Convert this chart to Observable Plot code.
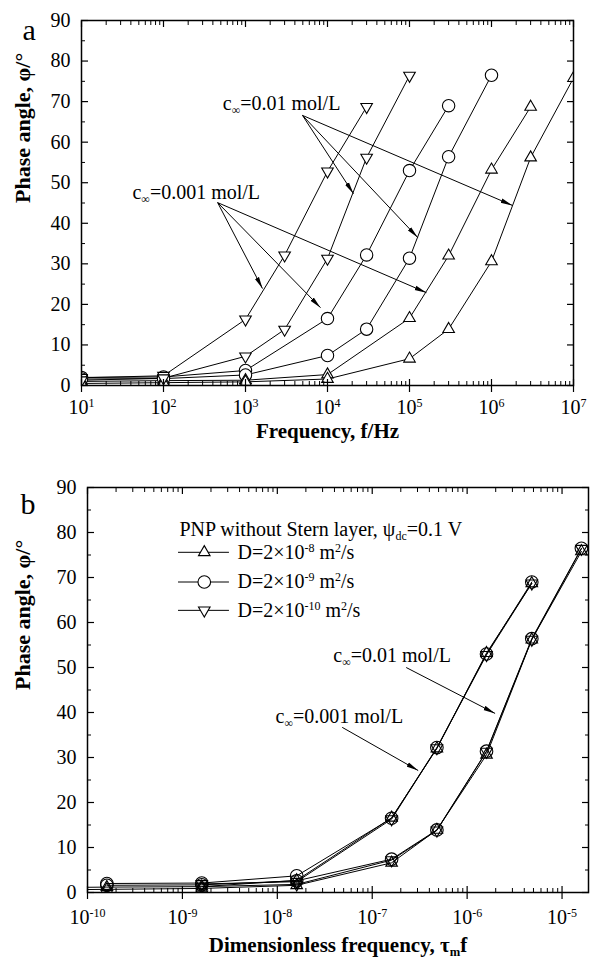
<!DOCTYPE html>
<html>
<head>
<meta charset="utf-8">
<script src="https://cdn.jsdelivr.net/npm/d3@7"></script>
<script src="https://cdn.jsdelivr.net/npm/@observablehq/plot@0.6"></script>
<style>
  html, body { margin: 0; padding: 0; background: #fff; }
  #wrap { width: 593px; }
  #wrap svg { display: block; }
  #wrap svg text, #wrap svg tspan { font-family: 'Liberation Serif', 'Times New Roman', serif !important; }
</style>
</head>
<body>
<div id="wrap"></div>
<script>
const FONT = "'Liberation Serif', 'Times New Roman', serif";

// ---------------- Panel a: phase angle vs frequency (Hz) ----------------
// D = 2e-10 m2/s (down triangles)
const fDown001  = [10, 100, 1e3, 3e3, 1e4, 3e4];
const phDown001 = [1.9, 2.4, 16.3, 32.1, 52.8, 68.7];
const fDown01   = [10, 100, 1e3, 3e3, 1e4, 3e4, 1e5];
const phDown01  = [1.3, 1.8, 7.2, 13.8, 31.3, 56.2, 76.4];
// D = 2e-9 m2/s (circles)
const fCirc001  = [10, 100, 1e3, 1e4, 3e4, 1e5, 3e5];
const phCirc001 = [2.0, 2.1, 3.7, 16.5, 32.2, 53.0, 69.0];
const fCirc01   = [10, 100, 1e3, 1e4, 3e4, 1e5, 3e5, 1e6];
const phCirc01  = [1.6, 1.7, 2.6, 7.4, 13.9, 31.4, 56.4, 76.5];
// D = 2e-8 m2/s (up triangles)
const fUp001    = [10, 100, 1e3, 1e4, 1e5, 3e5, 1e6, 3e6];
const phUp001   = [1.0, 1.2, 1.3, 2.7, 16.6, 32.0, 53.2, 68.7];
const fUp01     = [10, 100, 1e3, 1e4, 1e5, 3e5, 1e6, 3e6, 1e7];
const phUp01    = [0.5, 0.7, 0.9, 1.6, 6.6, 13.9, 30.6, 56.2, 75.8];

// ---------------- Panel b: dimensionless frequency tau_m f ----------------
const tfDown001 = [1.6e-9, 1.6e-8, 1.6e-7, 4.8e-7, 1.6e-6, 4.8e-6];
const tfDown01  = [1.6e-9, 1.6e-8, 1.6e-7, 4.8e-7, 1.6e-6, 4.8e-6, 1.6e-5];
const tfCirc001 = [1.6e-10, 1.6e-9, 1.6e-8, 1.6e-7, 4.8e-7, 1.6e-6, 4.8e-6];
const tfCirc01  = [1.6e-10, 1.6e-9, 1.6e-8, 1.6e-7, 4.8e-7, 1.6e-6, 4.8e-6, 1.6e-5];
const tfUp001   = [1.6e-11, 1.6e-10, 1.6e-9, 1.6e-8, 1.6e-7, 4.8e-7, 1.6e-6, 4.8e-6];
const tfUp01    = [1.6e-11, 1.6e-10, 1.6e-9, 1.6e-8, 1.6e-7, 4.8e-7, 1.6e-6, 4.8e-6, 1.6e-5];

// ---------------- ticks ----------------
const xTicksA = [1e1, 1e2, 1e3, 1e4, 1e5, 1e6, 1e7];
const xTicksB = [1e-10, 1e-9, 1e-8, 1e-7, 1e-6, 1e-5];
const yTicks  = [0, 10, 20, 30, 40, 50, 60, 70, 80, 90];
const yMinor  = [5, 15, 25, 35, 45, 55, 65, 75, 85];
const xDomainA = [10, 1e7];
const xDomainB = [1e-10, 1.9e-5];

// ---------------- annotations (data coordinates) ----------------
const annoTextA = [
  {x: 2754, y: 69.5, label: "c_{∞}=0.01 mol/L"},
  {x: 251,  y: 47.6, label: "c_{∞}=0.001 mol/L"}
];
const annoArrowA = [
  {x1: 4955, y1: 66.6, x2: 20750,   y2: 47.3},
  {x1: 4955, y1: 66.6, x2: 125900,  y2: 36.5},
  {x1: 4955, y1: 66.6, x2: 1803000, y2: 44.4},
  {x1: 457,  y1: 45.1, x2: 1611,    y2: 23.9},
  {x1: 457,  y1: 45.1, x2: 8222,    y2: 19.2},
  {x1: 457,  y1: 45.1, x2: 161000,  y2: 22.9}
];
const annoTextB = [
  {x: 1.62e-7, y: 52.7, label: "c_{∞}=0.01 mol/L"},
  {x: 4.5e-8,  y: 39.0, label: "c_{∞}=0.001 mol/L"}
];
const annoArrowB = [
  {x1: 2.28e-7, y1: 50.0, x2: 1.97e-6, y2: 39.8},
  {x1: 4.83e-8, y1: 36.7, x2: 3.05e-7, y2: 27.1}
];
const legendTitle = [{x: 9.3e-10, y: 80.6, label: "PNP without Stern layer, ψ_{dc}=0.1 V"}];
const legendLabels  = ["D=2×10^{-8} m^{2}/s", "D=2×10^{-9} m^{2}/s", "D=2×10^{-10} m^{2}/s"];
const legendSymbols = ["up", "circle", "down"];
const legendY       = [75.6, 69.0, 62.7];
const legendLineX   = [9.1e-10, 3.13e-9];
const legendMarkX   = 1.7e-9;
const legendTextX   = 3.8e-9;

// ---------------- helpers ----------------
function series(xs, ys, sym, key) { return xs.map((x, i) => ({x, y: ys[i], sym, key})); }
function minorTicks(lo, hi) { const out = []; for (let e = lo; e < hi; e++) for (let m = 2; m <= 9; m++) out.push(m * Math.pow(10, e)); return out; }
const pow10fmt = d => "10^{" + Math.round(Math.log10(d)) + "}";

const dataA = [
  ...series(fDown001, phDown001, "down", "d1"), ...series(fDown01, phDown01, "down", "d2"),
  ...series(fCirc001, phCirc001, "circle", "c1"), ...series(fCirc01, phCirc01, "circle", "c2"),
  ...series(fUp001, phUp001, "up", "u1"), ...series(fUp01, phUp01, "up", "u2")
];
const dataB = [
  ...series(tfDown001, phDown001, "down", "d1"), ...series(tfDown01, phDown01, "down", "d2"),
  ...series(tfCirc001, phCirc001, "circle", "c1"), ...series(tfCirc01, phCirc01, "circle", "c2"),
  ...series(tfUp001, phUp001, "up", "u1"), ...series(tfUp01, phUp01, "up", "u2")
];
const legendRows = legendLabels.map((label, i) => ({label, sym: legendSymbols[i], y: legendY[i]}));

function markerMarks(data, fill, rc, rt, extra = {}) {
  const base = {x: "x", y: "y", stroke: "black", strokeWidth: 1.1, fill, ...extra};
  return [
    Plot.dot(data.filter(d => d.sym === "circle"), {...base, symbol: "circle", r: rc}),
    Plot.dot(data.filter(d => d.sym === "up"), {...base, symbol: "triangle", r: rt}),
    Plot.dot(data.filter(d => d.sym === "down"), {...base, symbol: "triangle", r: rt, rotate: 180})
  ];
}

function frameAxes(xMajor, xMinor, pad) {
  return [
    Plot.axisX({anchor: "bottom", ticks: xMajor, tickSize: 7, tickPadding: pad, tickFormat: pow10fmt, fontSize: 20, fontFamily: FONT, label: null, strokeWidth: 1.2}),
    Plot.axisX({anchor: "bottom", ticks: xMajor, tickSize: -6, fill: "none", label: null, strokeWidth: 1.2}),
    Plot.axisX({anchor: "bottom", ticks: xMinor, tickSize: -4, fill: "none", label: null, strokeWidth: 1}),
    Plot.axisX({anchor: "top", ticks: xMajor, tickSize: -6, fill: "none", label: null, strokeWidth: 1.2}),
    Plot.axisX({anchor: "top", ticks: xMinor, tickSize: -4, fill: "none", label: null, strokeWidth: 1}),
    Plot.axisY({anchor: "left", ticks: yTicks, tickSize: 0, tickPadding: 11, fontSize: 20, fontFamily: FONT, label: null}),
    Plot.axisY({anchor: "left", ticks: yTicks, tickSize: -7, fill: "none", label: null, strokeWidth: 1.2}),
    Plot.axisY({anchor: "left", ticks: yMinor, tickSize: -4, fill: "none", label: null, strokeWidth: 1}),
    Plot.axisY({anchor: "right", ticks: yTicks, tickSize: -7, fill: "none", label: null, strokeWidth: 1.2}),
    Plot.axisY({anchor: "right", ticks: yMinor, tickSize: -4, fill: "none", label: null, strokeWidth: 1}),
    Plot.frame({stroke: "black", strokeWidth: 1.5})
  ];
}

const style = {fontFamily: FONT, fontSize: "20px", color: "black", background: "white"};
const T = {fontFamily: FONT};

const plotA = Plot.plot({
  width: 593, height: 460,
  marginTop: 20, marginBottom: 75, marginLeft: 81, marginRight: 20,
  x: {type: "log", domain: xDomainA},
  y: {domain: [0, 90]},
  style,
  marks: [
    Plot.line(dataA, {x: "x", y: "y", z: "key", stroke: "black", strokeWidth: 1, clip: true}),
    ...markerMarks(dataA, "white", 6.2, 4.3, {clip: true}),
    Plot.link(annoArrowA, {x1: "x1", y1: "y1", x2: "x2", y2: "y2", stroke: "black", strokeWidth: 1}),
    Plot.text(annoTextA, {...T, x: "x", y: "y", text: "label", fontSize: 20}),
    ...frameAxes(xTicksA, minorTicks(1, 7), 7),
    Plot.text(["Frequency, f/Hz"], {...T, frameAnchor: "bottom", dy: 52, text: d => d, fontWeight: "bold", fontSize: 21}),
    Plot.text(["Phase angle, φ/°"], {...T, frameAnchor: "left", dx: -59, rotate: -90, text: d => d, fontWeight: "bold", fontSize: 22}),
    Plot.text(["a"], {...T, frameAnchor: "top-left", dx: -59, dy: -2, text: d => d, fontSize: 30})
  ]
});

const plotB = Plot.plot({
  width: 593, height: 503,
  marginTop: 27, marginBottom: 71, marginLeft: 87, marginRight: 5,
  x: {type: "log", domain: xDomainB},
  y: {domain: [0, 90]},
  style,
  marks: [
    Plot.line(dataB, {x: "x", y: "y", z: "key", stroke: "black", strokeWidth: 1, clip: true}),
    ...markerMarks(dataB, "none", 6.3, 4.3, {clip: true}),
    Plot.ruleY(legendRows, {y: "y", x1: legendLineX[0], x2: legendLineX[1], stroke: "black", strokeWidth: 1}),
    ...markerMarks(legendRows.map(d => ({...d, x: legendMarkX})), "white", 6.3, 4.3),
    Plot.text(legendRows, {...T, x: legendTextX, y: "y", text: "label", textAnchor: "start", fontSize: 20}),
    Plot.text(legendTitle, {...T, x: "x", y: "y", text: "label", textAnchor: "start", fontSize: 20}),
    Plot.link(annoArrowB, {x1: "x1", y1: "y1", x2: "x2", y2: "y2", stroke: "black", strokeWidth: 1}),
    Plot.text(annoTextB, {...T, x: "x", y: "y", text: "label", fontSize: 20}),
    ...frameAxes(xTicksB, minorTicks(-10, -5), 10),
    Plot.text(["Dimensionless frequency, τ_{m}f"], {...T, frameAnchor: "bottom", dy: 59, text: d => d, fontWeight: "bold", fontSize: 21}),
    Plot.text(["Phase angle, φ/°"], {...T, frameAnchor: "left", dx: -65, rotate: -90, text: d => d, fontWeight: "bold", fontSize: 22}),
    Plot.text(["b"], {...T, frameAnchor: "top-left", dx: -67, dy: 5, text: d => d, fontSize: 30})
  ]
});

const wrap = document.getElementById("wrap");
wrap.appendChild(plotA);
wrap.appendChild(plotB);

// rich text: ^{...} superscript, _{...} subscript
function richText(root) {
  root.querySelectorAll("text").forEach(el => {
    const t = el.textContent;
    if (!/[\^_]\{/.test(t)) return;
    const fs = parseFloat(getComputedStyle(el).fontSize) || 20;
    while (el.firstChild) el.removeChild(el.firstChild);
    const re = /([\^_])\{([^}]*)\}/g;
    let last = 0, m, cur = 0;
    const add = (str, off, small) => {
      const ts = document.createElementNS("http://www.w3.org/2000/svg", "tspan");
      ts.textContent = str;
      ts.setAttribute("dy", (off - cur).toFixed(2));
      if (small) ts.setAttribute("font-size", (fs * 0.6).toFixed(1));
      cur = off;
      el.appendChild(ts);
    };
    while ((m = re.exec(t))) {
      if (m.index > last) add(t.slice(last, m.index), 0, false);
      add(m[2], m[1] === "^" ? -fs * 0.36 : fs * 0.2, true);
      last = re.lastIndex;
    }
    if (last < t.length) add(t.slice(last), 0, false);
  });
}

// filled arrowheads on annotation links
function arrowHeads(svg, id) {
  const s = d3.select(svg);
  const defs = s.insert("defs", ":first-child");
  defs.append("marker").attr("id", id)
    .attr("viewBox", "0 -3 12 6").attr("refX", 12).attr("refY", 0)
    .attr("markerWidth", 12).attr("markerHeight", 6)
    .attr("markerUnits", "userSpaceOnUse").attr("orient", "auto")
    .append("path").attr("d", "M0,-2.3L12,0L0,2.3Z").attr("fill", "black");
  s.selectAll('g[aria-label="link"] path').attr("marker-end", `url(#${id})`);
}

richText(plotA); richText(plotB);
arrowHeads(plotA, "headA"); arrowHeads(plotB, "headB");
</script>
</body>
</html>
